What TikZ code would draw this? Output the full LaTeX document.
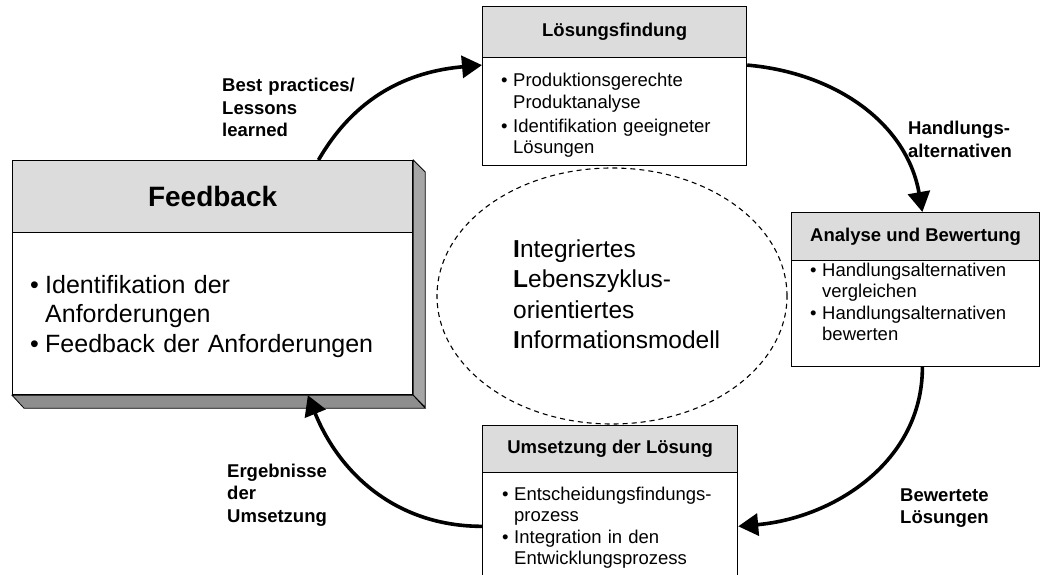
\documentclass[tikz,border=0pt]{standalone}
\usepackage{fontspec}
\setmainfont{Liberation Sans}
\usepackage{tikz}
\usetikzlibrary{shapes}
\usetikzlibrary{positioning}
\usetikzlibrary{arrows.meta}

\definecolor{headgray}{HTML}{DCDCDC}
\definecolor{sidegray}{HTML}{A6A6A6}
\definecolor{basegray}{HTML}{8E8E8E}

% bullet item with hanging indent, optional indent width
\newcommand{\bul}[2][12pt]{\hangindent=#1\hangafter=1\noindent\makebox[#1][l]{\textbullet}#2\par}

\begin{document}
\begin{tikzpicture}[x=1pt, y=1pt,
    panel/.style={draw, fill=white, line width=1.2pt, anchor=north west, inner sep=0pt},
    headbar/.style={draw, fill=headgray, line width=1.2pt, anchor=north west, inner sep=0pt,
        font=\bfseries\fontsize{18.5}{22}\selectfont},
    bodytext/.style={anchor=base west, inner sep=0pt, text width=240pt,
        font=\fontsize{18.5}{21.5}\selectfont},
    steplabel/.style={anchor=base west, inner sep=0pt, text width=170pt,
        font=\bfseries\fontsize{18.5}{22.5}\selectfont},
    flow/.style={-{Triangle[length=20pt, width=22pt]}, line width=3.6pt}]
    \useasboundingbox (0,0) rectangle (1041,-575);

    % centre: information model
    \node[draw, dashed, dash pattern=on 5pt off 4pt, line width=1.1pt, ellipse,
        minimum width=350pt, minimum height=256pt] (ilim) at (612,-296) {};
    \node[anchor=base west, inner sep=0pt, text width=240pt,
        font=\fontsize{24.5}{30.5}\selectfont] (ilimtext) at (513,-257)
        {\textbf{I}ntegriertes\newline \textbf{L}ebenszyklus-\newline orientiertes\newline \textbf{I}nformationsmodell};

    % feedback box with bevelled shadow
    \node[panel, minimum width=400pt, minimum height=234pt] (fb) at (12,-160) {};
    \filldraw[fill=sidegray, line width=0.8pt] (fb.north east) -- ++(12,-12) -- ++(0,-235) -- (fb.south east) -- cycle;
    \filldraw[fill=basegray, line width=0.8pt] (fb.south west) -- ++(12,-13) -- ([shift={(12,-13)}]fb.south east) -- (fb.south east) -- cycle;
    \node[panel, minimum width=400pt, minimum height=234pt] at (fb.north west) {};
    \node[headbar, minimum width=400pt, minimum height=72pt,
        font=\bfseries\fontsize{28}{32}\selectfont] (fbhead) at (fb.north west) {Feedback};
    \node[bodytext, text width=380pt, font=\fontsize{25}{29.5}\selectfont] (fbbody) at (30,-293)
        {\bul[15pt]{Identifikation der\newline Anforderungen}\bul[15pt]{Feedback der Anforderungen}};

    % Loesungsfindung
    \node[panel, minimum width=264pt, minimum height=159pt] (loes) at (482,-6) {};
    \node[headbar, minimum width=264pt, minimum height=51pt] (loeshead) at (loes.north west) {Lösungsfindung};
    \node[bodytext] (loesbody) at (501,-87)
        {\bul{Produktionsgerechte\newline Produktanalyse}\vspace{2.5pt}\bul{Identifikation geeigneter\newline Lösungen}};

    % Analyse und Bewertung
    \node[panel, minimum width=248pt, minimum height=154pt] (ana) at (791,-212) {};
    \node[headbar, minimum width=248pt, minimum height=48pt] (anahead) at (ana.north west) {Analyse und Bewertung};
    \node[bodytext] (anabody) at (810,-276)
        {\bul{Handlungsalternativen\newline vergleichen}\bul{Handlungsalternativen\newline bewerten}};

    % Umsetzung der Loesung
    \node[panel, minimum width=255pt, minimum height=170pt] (ums) at (482,-425) {};
    \node[headbar, minimum width=255pt, minimum height=47pt] (umshead) at (ums.north west) {Umsetzung der Lösung};
    \node[bodytext] (umsbody) at (502,-500)
        {\bul{Entscheidungsfindungs-\newline prozess}\bul{Integration in den\newline Entwicklungsprozess}};

    % cycle
    \draw[flow] (fb.48) to[out=60, in=185] (loes.171);
    \draw[flow] (loes.9) to[out=-5, in=100] (ana.85);
    \draw[flow] (ana.-85) to[out=-90, in=5] (ums.-7);
    \draw[flow] (ums.187) to[out=180, in=-68] (fb.-51);

    \node[steplabel] (lblbest) at (222,-92) {Best practices/\newline Lessons\newline learned};
    \node[steplabel] (lblhandl) at (908,-135) {Handlungs-\newline alternativen};
    \node[steplabel] (lblbew) at (900,-501) {Bewertete\newline Lösungen};
    \node[steplabel] (lblerg) at (227,-477) {Ergebnisse\newline der\newline Umsetzung};
\end{tikzpicture}
\end{document}
